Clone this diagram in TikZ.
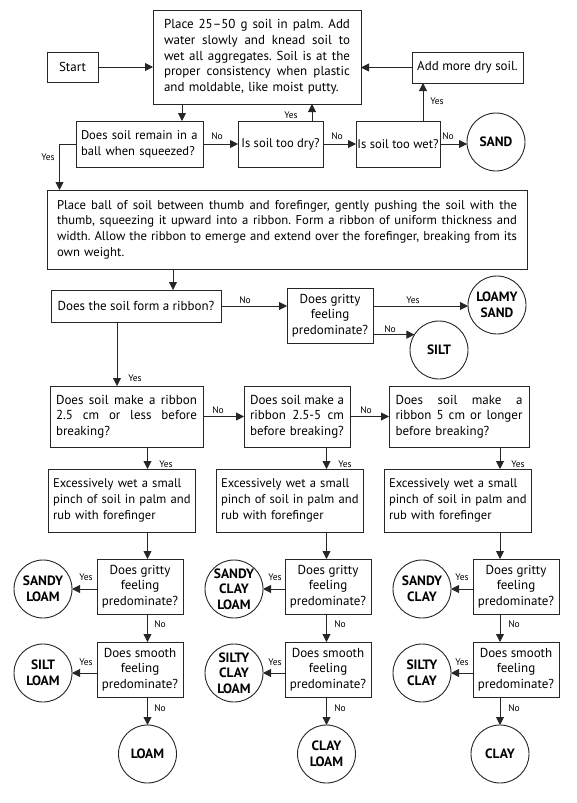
\documentclass[tikz,border=0pt]{standalone}
\usepackage{fontspec}
\setmainfont{PT Sans}
\usetikzlibrary{arrows.meta}
\newcommand\jline[1]{\leavevmode\hbox to\hsize{\spaceskip=\fontdimen2\font plus 1fil minus 1fil\relax #1}}
\frenchspacing
\begin{document}
\begin{tikzpicture}[x=1pt,y=-1pt,
  every node/.style={font=\fontsize{13}{15.7}\selectfont\frenchspacing, inner sep=0pt, outer sep=0pt},
  box/.style={draw=black!85, line width=0.9pt, align=left},
  cbox/.style={draw=black!85, line width=0.9pt, align=center},
  small/.style={font=\fontsize{12.6}{15.7}\selectfont\frenchspacing},
  soil/.style={draw=black!85, line width=0.9pt, circle, minimum size=58pt, align=center, font=\fontsize{13.5}{15.5}\selectfont\bfseries},
  lab/.style={font=\fontsize{9.5}{10}\selectfont},
  arr/.style={draw=black!85, line width=0.9pt, -{Triangle[length=8pt,width=8pt]}},
]
\useasboundingbox (0,0) rectangle (576,803);

% ---- top row
\node[cbox, minimum width=51pt, minimum height=30pt] (start) at (72.5,67) {Start};
\node[box, text width=186pt, inner xsep=11pt, minimum height=94pt] (main) at (257,57)
  {\jline{Place 25--50 g soil in palm. Add}\\\jline{water slowly and knead soil to}\\\jline{wet all aggregates. Soil is at the}\\\jline{proper consistency when plastic}\\and moldable, like moist putty.};
\node[cbox, minimum width=111pt, minimum height=31pt] (addmore) at (467.5,67.5) {Add more dry soil.};

\node[box, small, text width=117pt, inner xsep=5pt, minimum height=46pt] (ball) at (139.5,144)
  {\mbox{Does soil remain in a}\\\mbox{ball when squeezed?}};
\node[cbox, small, minimum width=85pt, minimum height=46pt] (dry) at (280.5,144) {Is soil too dry?};
\node[cbox, small, minimum width=84pt, minimum height=46pt] (wet) at (398,144) {Is soil too wet?};
\node[soil] (sand) at (496,142) {SAND};

% ---- ribbon
\node[box, text width=460pt, inner xsep=10pt, minimum height=79pt, font=\fontsize{12.7}{15.7}\selectfont] (ribbon) at (287,229.5)
  {\jline{Place ball of soil between thumb and forefinger, gently pushing the soil with the}\\\jline{thumb, squeezing it upward into a ribbon. Form a ribbon of uniform thickness and}\\\jline{width. Allow the ribbon to emerge and extend over the forefinger, breaking from its}\\own weight.};

\node[cbox, minimum width=170pt, minimum height=32pt] (formq) at (136,306) {Does the soil form a ribbon?};
\node[cbox, minimum width=86pt, minimum height=55pt] (grit0) at (330,315.5) {Does gritty\\feeling\\predominate?};
\node[soil] (loamysand) at (497,305) {LOAMY\\SAND};
\node[soil] (silt) at (439,350) {SILT};

% ---- row 3
\node[box, text width=141pt, inner xsep=6pt, minimum height=61pt] (r3A) at (126.5,416.5)
  {\jline{Does soil make a ribbon}\\\jline{2.5 cm or less before}\\breaking?};
\node[box, text width=94pt, inner xsep=6pt, minimum height=61pt] (r3B) at (297,416.5)
  {\jline{Does soil make a}\\\jline{ribbon 2.5-5 cm}\\before breaking?};
\node[box, text width=127pt, inner xsep=6.5pt, minimum height=61pt] (r3C) at (459,416.5)
  {\jline{Does soil make a}\\\jline{ribbon 5 cm or longer}\\before breaking?};

% ---- row 4
\foreach \c/\x in {A/121.5,B/289.5,C/457.5}{
  \node[box, small, text width=137pt, inner xsep=5pt, minimum height=63pt] (r4\c) at (\x,500.5)
    {\mbox{Excessively wet a small}\\\mbox{pinch of soil in palm and}\\\mbox{rub with forefinger}};
}

% ---- gritty / smooth boxes
\foreach \c/\x in {A/140,B/328,C/516}{
  \node[cbox, minimum width=86pt, minimum height=55pt] (g\c) at (\x,586.5) {Does gritty\\feeling\\predominate?};
  \node[cbox, minimum width=86pt, minimum height=55pt] (s\c) at (\x,669.5) {Does smooth\\feeling\\predominate?};
}

% ---- soil circles
\node[soil] (yA) at (43,589) {SANDY\\LOAM};
\node[soil] (yB) at (234,589) {SANDY\\CLAY\\LOAM};
\node[soil] (yC) at (422,589) {SANDY\\CLAY};
\node[soil] (zA) at (43,673) {SILT\\LOAM};
\node[soil] (zB) at (234,673) {SILTY\\CLAY\\LOAM};
\node[soil] (zC) at (422,673) {SILTY\\CLAY};
\node[soil] (fA) at (147.5,754) {LOAM};
\node[soil] (fB) at (326.5,754) {CLAY\\LOAM};
\node[soil] (fC) at (500,754) {CLAY};

% ---- helper coordinates
\coordinate (c182) at (182,0);
\coordinate (c312) at (312,0);
\coordinate (c423) at (423,0);
\coordinate (c60) at (59.5,0);
\coordinate (c173) at (173,0);
\coordinate (c117) at (117,0);
\coordinate (cA) at (147.5,0);
\coordinate (cB) at (326.5,0);
\coordinate (cC) at (500,0);

% ---- connectors, top
\draw[arr] (start.east) -- (start.east -| main.west);
\draw[arr] (addmore.west) -- (addmore.west -| main.east);
\draw[arr] (main.south -| c182) -- (ball.north -| c182);
\draw[arr] (dry.north -| c312) -- (main.south -| c312);
\draw[arr] (wet.north -| c423) -- (addmore.south -| c423);
\draw[arr] (ball.east) -- (dry.west);
\draw[arr] (dry.east) -- (wet.west);
\draw[arr] (wet.east) -- (wet.east -| sand.west);
\draw[arr] (ball.west) -| (ribbon.north -| c60);

% ---- connectors, ribbon
\draw[arr] (ribbon.south -| c173) -- (formq.north -| c173);
\draw[arr] (formq.east) -- (formq.east -| grit0.west);
\draw[arr] (grit0.east |- formq.east) -- (formq.east -| loamysand.west);
\draw[arr] (grit0.east |- silt.148.9) -- (silt.148.9);
\draw[arr] (formq.south -| c117) -- (r3A.north -| c117);

% ---- connectors, rows 3..
\draw[arr] (r3A.east) -- (r3B.west);
\draw[arr] (r3B.east) -- (r3C.west);
\foreach \c in {A,B,C}{
  \draw[arr] (r3\c.south -| c\c) -- (r4\c.north -| c\c);
  \draw[arr] (r4\c.south -| c\c) -- (g\c.north -| c\c);
  \draw[arr] (g\c.south -| c\c) -- (s\c.north -| c\c);
  \draw[arr] (s\c.south -| c\c) -- (f\c);
  \draw[arr] (g\c.west |- y\c) -- (y\c);
  \draw[arr] (s\c.west |- z\c) -- (z\c);
}

% ---- labels
\node[lab] (l1) at (217,136) {No};
\node[lab] (l2) at (337,136) {No};
\node[lab] (l3) at (448,136) {No};
\node[lab] (l4) at (291,115) {Yes};
\node[lab] (l5) at (437,101) {Yes};
\node[lab] (l6) at (48,157) {Yes};
\node[lab] (l7) at (245,300) {No};
\node[lab] (l8) at (413,300) {Yes};
\node[lab] (l9) at (390,329) {No};
\node[lab] (l10) at (135,378) {Yes};
\node[lab] (l11) at (218,410) {No};
\node[lab] (l12) at (366,410) {No};
\foreach \x/\c in {166/A,345/B,518/C}{ \node[lab] (ly3\c) at (\x,464) {Yes}; }
\foreach \x/\c in {86/A,275/B,462/C}{
  \node[lab] (ly5\c) at (\x,577) {Yes};
  \node[lab] (ly6\c) at (\x,662) {Yes};
}
\foreach \x/\c in {160/A,340/B,514/C}{
  \node[lab] (ln5\c) at (\x,624) {No};
  \node[lab] (ln6\c) at (\x,708) {No};
}
\end{tikzpicture}
\end{document}
